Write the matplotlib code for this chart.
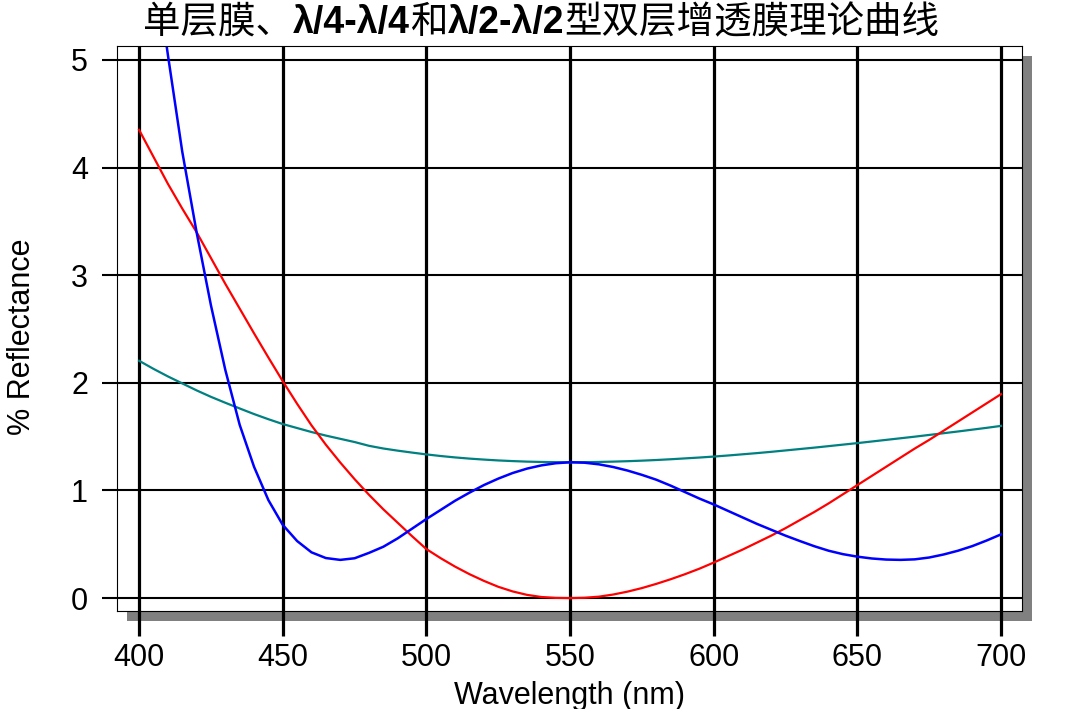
import matplotlib
matplotlib.use('Agg')
import matplotlib.pyplot as plt
from matplotlib.patches import Rectangle

plt.rcParams['font.family'] = ['Liberation Sans', 'Noto Sans CJK SC', 'DejaVu Sans']

# wavelength (nm), 5 nm steps
wl = [400, 405, 410, 415, 420, 425, 430, 435, 440, 445,
      450, 455, 460, 465, 470, 475, 480, 485, 490, 495,
      500, 505, 510, 515, 520, 525, 530, 535, 540, 545,
      550, 555, 560, 565, 570, 575, 580, 585, 590, 595,
      600, 605, 610, 615, 620, 625, 630, 635, 640, 645,
      650, 655, 660, 665, 670, 675, 680, 685, 690, 695, 700]

# single layer (teal)
single_layer = [2.205, 2.13, 2.06, 1.995, 1.93, 1.87, 1.815, 1.762, 1.71, 1.662,
                1.617, 1.58, 1.543, 1.51, 1.48, 1.45, 1.415, 1.39, 1.37, 1.352,
                1.335, 1.32, 1.307, 1.296, 1.287, 1.279, 1.273, 1.268, 1.265, 1.263,
                1.262, 1.263, 1.265, 1.268, 1.272, 1.277, 1.283, 1.29, 1.298, 1.306,
                1.315, 1.325, 1.336, 1.347, 1.359, 1.372, 1.385, 1.398, 1.412, 1.426,
                1.44, 1.455, 1.47, 1.485, 1.50, 1.516, 1.532, 1.548, 1.565, 1.582, 1.60]

# V-shaped double layer (red)
v_layer = [4.35, 4.10, 3.85, 3.62, 3.40, 3.16, 2.92, 2.69, 2.46, 2.235,
           2.015, 1.805, 1.605, 1.425, 1.26, 1.105, 0.96, 0.825, 0.70, 0.575,
           0.455, 0.37, 0.292, 0.222, 0.16, 0.105, 0.062, 0.03, 0.01, 0.002,
           0.0, 0.003, 0.013, 0.033, 0.06, 0.093, 0.132, 0.175, 0.222, 0.273,
           0.33, 0.39, 0.45, 0.515, 0.58, 0.65, 0.725, 0.80, 0.88, 0.965,
           1.05, 1.135, 1.22, 1.305, 1.39, 1.47, 1.555, 1.64, 1.725, 1.81, 1.895]

# W-shaped double layer (blue), runs off the top at the short end
w_layer = [7.2, 6.0, 5.05, 4.15, 3.40, 2.72, 2.12, 1.61, 1.22, 0.91,
           0.68, 0.53, 0.425, 0.372, 0.355, 0.37, 0.42, 0.477, 0.555, 0.645,
           0.735, 0.82, 0.905, 0.98, 1.05, 1.11, 1.162, 1.203, 1.233, 1.253,
           1.262, 1.258, 1.243, 1.218, 1.185, 1.145, 1.10, 1.045, 0.985, 0.925,
           0.87, 0.81, 0.75, 0.69, 0.635, 0.58, 0.53, 0.482, 0.44, 0.408,
           0.385, 0.368, 0.358, 0.355, 0.36, 0.377, 0.405, 0.44, 0.483, 0.535, 0.592]

x_ticks = [400, 450, 500, 550, 600, 650, 700]
y_ticks = [0, 1, 2, 3, 4, 5]

title_parts = [('单层膜、', 'cjk'), ('λ/4-λ/4', 'lat'), ('和', 'cjk'),
               ('λ/2-λ/2', 'lat'), ('型双层增透膜理论曲线', 'cjk')]

W, H = 1079, 709
fig = plt.figure(figsize=(W / 100, H / 100), dpi=100)
ax_rect = [117 / W, 98 / H, 905 / W, 565 / H]
ax = fig.add_axes(ax_rect)

# drop shadow behind the plot box
shadow = Rectangle((ax_rect[0] + 10 / W, ax_rect[1] - 10 / H), ax_rect[2], ax_rect[3],
                   transform=fig.transFigure, facecolor='#808080', edgecolor='none', zorder=-1)
fig.add_artist(shadow)

ax.plot(wl, single_layer, color='#008080', lw=1.6)
ax.plot(wl, v_layer, color='#ff0000', lw=1.6)
ax.plot(wl, w_layer, color='#0000ff', lw=1.8)

ax.set_xlim(392.3, 707.3)
ax.set_ylim(-0.12, 5.13)
ax.set_xticks(x_ticks)
ax.set_yticks(y_ticks)
ax.tick_params(axis='x', length=18, width=2.3, pad=5, labelsize=22)
ax.tick_params(axis='y', length=10.8, width=1.5, pad=10, labelsize=22)
ax.grid(axis='x', color='black', lw=2.3)
ax.grid(axis='y', color='black', lw=1.5)
for s in ax.spines.values():
    s.set_linewidth(0.8)

fig.text(570 / W, (H - 704) / H, 'Wavelength (nm)', ha='center', va='baseline', fontsize=22)
fig.text(22 / W, 1 - 337 / H, '% Reflectance', ha='center', va='center',
         rotation=90, fontsize=22)

# title made of pieces in two fonts, placed side by side
renderer = fig.canvas.get_renderer()
texts = []
for s, kind in title_parts:
    if kind == 'cjk':
        t = fig.text(0, 0, s, fontsize=27, family=['Noto Sans CJK SC'], va='baseline')
    else:
        t = fig.text(0, 0, s, fontsize=27, family=['Liberation Sans'], weight='bold',
                     va='baseline')
    texts.append(t)
widths = [t.get_window_extent(renderer).width for t in texts]
x = 541 - sum(widths) / 2
for t, w in zip(texts, widths):
    t.set_position((x / W, 1 - 33 / H))
    x += w

fig.savefig('out.png', dpi=100)
